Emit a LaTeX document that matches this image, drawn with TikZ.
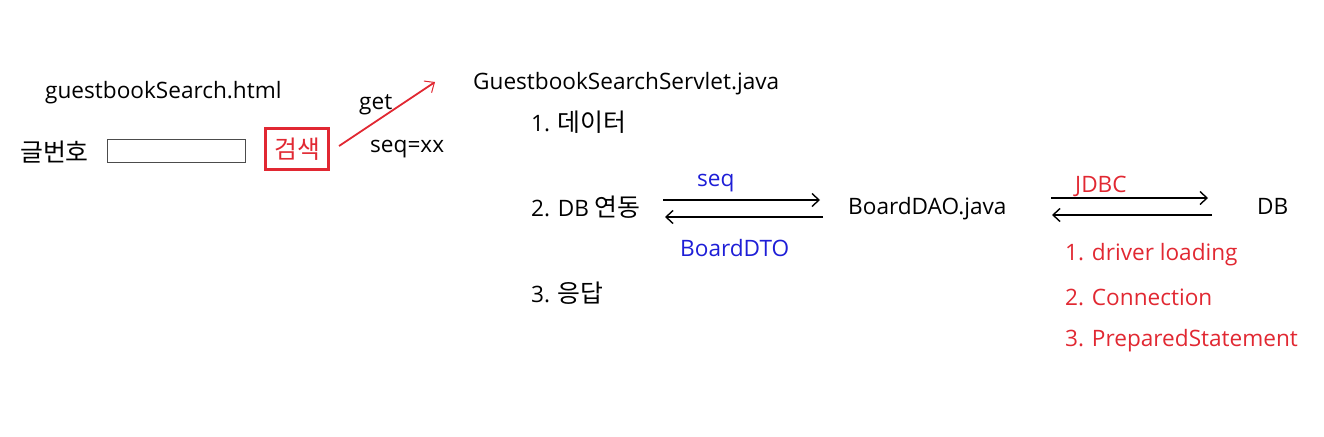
\documentclass[tikz,border=0pt]{standalone}
\usepackage{fontspec}
\setmainfont{Open Sans}
\newfontfamily\kr[Scale=1.1]{Noto Sans CJK KR}
\usepackage{tikz}
\usetikzlibrary{arrows.meta}
\usetikzlibrary{positioning}
\definecolor{memored}{RGB}{225,40,50}
\definecolor{memoblue}{RGB}{30,30,215}
\tikzset{
    txt/.style={anchor=west, inner sep=0pt, yshift=-2.5pt, font=\fontsize{22.6}{26}\selectfont},
    redtxt/.style={txt, text=memored},
    bluetxt/.style={txt, text=memoblue},
    call/.style={draw=black, line width=1.6pt, -{Straight Barb[length=7pt,width=13pt,line width=1.4pt]}},
    request/.style={draw=memored, line width=1.8pt, -{Straight Barb[length=8pt,width=14pt,line width=1pt]}},
}
\begin{document}
\begin{tikzpicture}[x=1pt, y=-1pt]
	\useasboundingbox (0,0) rectangle (1324,436);
	% html page
	\node[txt] (page) at (45,90) {guestbookSearch.html};
	\node[txt] (label) at (20,150) {\kr 글번호};
	\node[draw=black!70, line width=1pt, minimum width=138pt, minimum height=23pt, inner sep=0pt] (field) at (176,150.5) {};
	\node[draw=memored, line width=2.2pt, text=memored, minimum width=63pt, minimum height=41pt, inner sep=0pt, font=\fontsize{22.6}{26}\selectfont] (search) at (297,149) {\kr 검색};
	\coordinate (reqfrom) at (339,146);
	\coordinate (reqto) at (435,82);
	\draw[request] (reqfrom) -- (reqto);
	\node[txt] (get) at (359,102) {get};
	\node[txt] (param) at (370,147) {seq=xx};
	% servlet
	\node[txt] (servlet) at (473,81) {GuestbookSearchServlet.java};
	\node[txt] (step1) at (531,120) {1. {\kr 데이터}};
	\node[txt] (step2) at (531,205) {2. DB {\kr 연동}};
	\node[txt] (step3) at (531,291) {3. {\kr 응답}};
	% dao
	\node[txt] (dao) at (848,206) {BoardDAO.java};
	\coordinate (daoa) at (663,200);
	\coordinate (daob) at (820,200);
	\coordinate (daoc) at (823,217);
	\coordinate (daod) at (665,217);
	\draw[call] (daoa) -- (daob);
	\draw[call] (daoc) -- (daod);
	\node[bluetxt] (seq) at (697,181) {seq};
	\node[bluetxt] (dto) at (680,246) {BoardDTO};
	% db
	\node[txt] (db) at (1257,204) {DB};
	\coordinate (dba) at (1051,198);
	\coordinate (dbb) at (1208,198);
	\coordinate (dbc) at (1212,215);
	\coordinate (dbd) at (1052,215);
	\draw[call] (dba) -- (dbb);
	\draw[call] (dbc) -- (dbd);
	\node[redtxt] (jdbc) at (1075,184) {JDBC};
	\node[redtxt] (jdbc1) at (1065,252) {1. driver loading};
	\node[redtxt] (jdbc2) at (1065,295) {2. Connection};
	\node[redtxt] (jdbc3) at (1065,338) {3. PreparedStatement};
\end{tikzpicture}
\end{document}
